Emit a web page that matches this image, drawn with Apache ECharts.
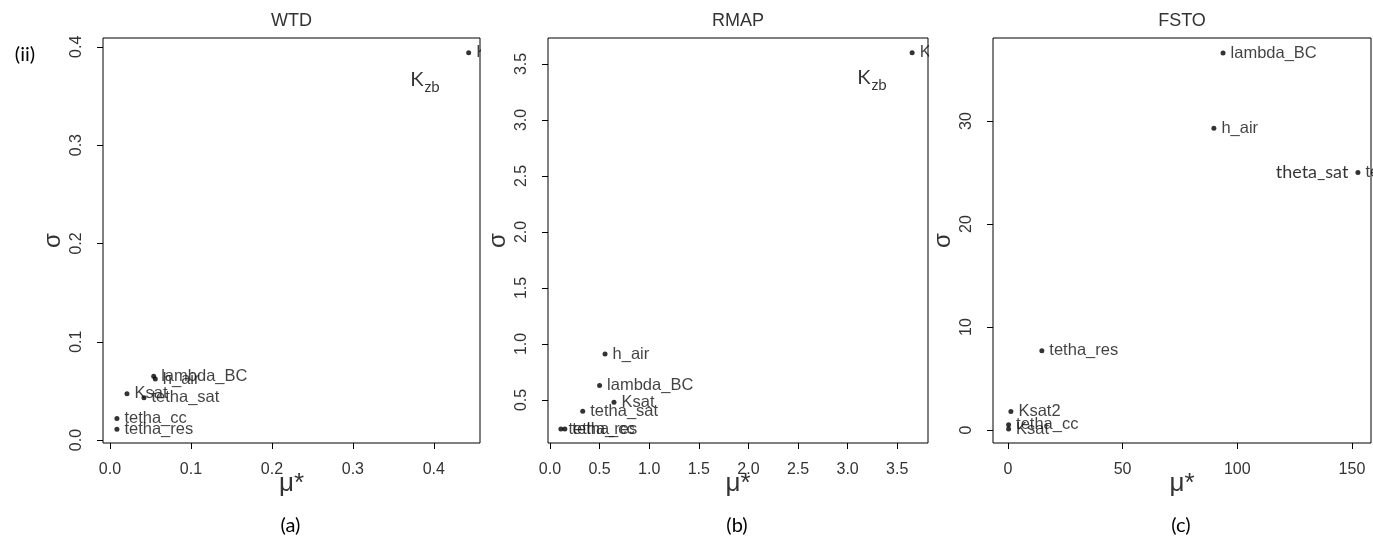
<!DOCTYPE html>
<html><head><meta charset="utf-8">
<script src="https://cdn.jsdelivr.net/npm/echarts@6/dist/echarts.min.js"></script>
<style>html,body{margin:0;padding:0;background:#fff}#c{width:1373px;height:549px}</style>
</head><body><div id="c"></div>
<script>
// ---- data ----
const titles = ['WTD', 'RMAP', 'FSTO'];
const panelTags = ['(a)', '(b)', '(c)'];

const wtdNames = ['Kzb', 'lambda_BC', 'h_air', 'Ksat', 'tetha_sat', 'tetha_cc', 'tetha_res'];
const wtdMu    = [0.443, 0.054, 0.056, 0.021, 0.042, 0.0086, 0.0086];
const wtdSigma = [0.394, 0.065, 0.062, 0.047, 0.043, 0.022, 0.011];

const rmapNames = ['Kzb', 'h_air', 'lambda_BC', 'Ksat', 'tetha_sat', 'tetha_cc', 'tetha_res'];
const rmapMu    = [3.65, 0.555, 0.50, 0.645, 0.33, 0.15, 0.11];
const rmapSigma = [3.60, 0.91, 0.63, 0.48, 0.40, 0.24, 0.24];

const fstoNames = ['lambda_BC', 'h_air', 'tetha_sat', 'tetha_res', 'Ksat2', 'tetha_cc', 'Ksat'];
const fstoMu    = [93.8, 89.8, 152.6, 14.8, 1.3, 0.3, 0.3];
const fstoSigma = [36.6, 29.3, 25.0, 7.7, 1.8, 0.5, 0.1];

const wtdXTicks  = [0, 0.1, 0.2, 0.3, 0.4];
const wtdYTicks  = [0, 0.1, 0.2, 0.3, 0.4];
const rmapXTicks = [0, 0.5, 1.0, 1.5, 2.0, 2.5, 3.0, 3.5];
const rmapYTicks = [0.5, 1.0, 1.5, 2.0, 2.5, 3.0, 3.5];
const fstoXTicks = [0, 50, 100, 150];
const fstoYTicks = [0, 10, 20, 30];

// annotations [mu, sigma]
const wtdKzbNote  = [0.389, 0.369];
const rmapKzbNote = [3.246, 3.40];
const fstoThetaNote = [132.6, 25.05];

// ---- layout ----
const grids = [
  {left: 103, top: 38, width: 377, height: 405},
  {left: 548, top: 38, width: 380, height: 405},
  {left: 993, top: 38, width: 378, height: 405}
];
const xRanges = [[-0.0086, 0.457], [-0.02, 3.81], [-6.5, 158.3]];
const yRanges = [[-0.003, 0.409], [0.116, 3.732], [-1.26, 38.06]];
const xTicks = [wtdXTicks, rmapXTicks, fstoXTicks];
const yTicks = [wtdYTicks, rmapYTicks, fstoYTicks];
const xFmt = [v => v.toFixed(1), v => v.toFixed(1), v => String(Math.round(v))];
const yFmt = [v => v.toFixed(1), v => v.toFixed(1), v => String(Math.round(v))];
const names = [wtdNames, rmapNames, fstoNames];
const mus = [wtdMu, rmapMu, fstoMu];
const sigmas = [wtdSigma, rmapSigma, fstoSigma];

const tickFont = "'Liberation Sans', Arial, sans-serif";
const noteFont = "Lato, 'Open Sans', sans-serif";

const option = {
  animation: false,
  backgroundColor: '#fff',
  grid: grids.map(g => Object.assign({show: true, borderColor: '#000', borderWidth: 1, backgroundColor: 'transparent'}, g)),
  xAxis: [], yAxis: [], series: [], graphic: []
};

for (let i = 0; i < 3; i++) {
  option.xAxis.push({
    type: 'value', gridIndex: i, min: xRanges[i][0], max: xRanges[i][1], position: 'bottom',
    axisLine: {show: false, onZero: false},
    axisTick: {show: true, inside: false, length: 6, customValues: xTicks[i], lineStyle: {color: '#000'}},
    axisLabel: {customValues: xTicks[i], formatter: xFmt[i], margin: 19, fontSize: 16, color: '#333', fontFamily: tickFont},
    splitLine: {show: false},
    name: 'μ*', nameLocation: 'middle', nameGap: 28, nameMoveOverlap: false,
    nameTextStyle: {fontSize: 26, color: '#333', fontFamily: tickFont}
  });
  option.yAxis.push({
    type: 'value', gridIndex: i, min: yRanges[i][0], max: yRanges[i][1], position: 'left',
    axisLine: {show: false, onZero: false},
    axisTick: {show: true, inside: false, length: 6, customValues: yTicks[i], lineStyle: {color: '#000'}},
    axisLabel: {customValues: yTicks[i], formatter: yFmt[i], rotate: 90, margin: 18, fontSize: 16, color: '#333', fontFamily: tickFont},
    splitLine: {show: false},
    name: 'σ', nameLocation: 'middle', nameGap: 38, nameRotate: 90, nameMoveOverlap: false,
    nameTextStyle: {fontSize: 24, color: '#333', fontFamily: tickFont}
  });
  option.series.push({
    type: 'scatter', xAxisIndex: i, yAxisIndex: i,
    symbol: 'circle', symbolSize: 5,
    itemStyle: {color: '#000'},
    data: mus[i].map((m, k) => ({value: [m, sigmas[i][k]], name: names[i][k]})),
    label: {show: true, position: 'right', distance: 5, formatter: '{b}', fontSize: 16.5, color: '#111', fontFamily: tickFont},
    z: 3
  });
  const g = grids[i];
  option.graphic.push({
    type: 'text', z: 100,
    x: g.left + g.width / 2, y: 21,
    style: {text: titles[i], font: '18px ' + tickFont, fill: '#333', textAlign: 'center', textVerticalAlign: 'middle'}
  });
  option.graphic.push({
    type: 'text', z: 100,
    x: g.left + g.width / 2 - 1, y: 526,
    style: {text: panelTags[i], font: '20px ' + noteFont, fill: '#000', textAlign: 'center', textVerticalAlign: 'middle'}
  });
  // clip labels that run past the plot box on the right
  option.graphic.push({
    type: 'rect', z: 100,
    shape: {x: g.left + g.width + 1, y: g.top + 2, width: i === 2 ? 4 : 26, height: 30},
    style: {fill: '#fff'}
  });
}

option.graphic.push({
  type: 'text', z: 100, x: 25, y: 55,
  style: {text: '(ii)', font: '20px ' + noteFont, fill: '#000', textAlign: 'center', textVerticalAlign: 'middle'}
});

// annotations as label-only series
const kzbRich = {
  k: {fontSize: 20, fontFamily: noteFont, color: '#000', lineHeight: 24, verticalAlign: 'bottom'},
  s: {fontSize: 15, fontFamily: noteFont, color: '#000', lineHeight: 24, verticalAlign: 'bottom', padding: [0, 0, -5, 1]}
};
[[0, wtdKzbNote], [1, rmapKzbNote]].forEach(([i, p]) => {
  option.series.push({
    type: 'scatter', xAxisIndex: i, yAxisIndex: i, symbolSize: 0, silent: true,
    data: [{value: p, name: 'Kzb'}],
    label: {show: true, position: 'inside', formatter: '{k|K}{s|zb}', rich: kzbRich},
    z: 4
  });
});
option.series.push({
  type: 'scatter', xAxisIndex: 2, yAxisIndex: 2, symbolSize: 0, silent: true,
  data: [{value: fstoThetaNote, name: 'theta_sat'}],
  label: {show: true, position: 'inside', formatter: '{b}', fontSize: 18, fontFamily: noteFont, color: '#000'},
  z: 4
});

const chart = echarts.init(document.getElementById('c'), null, {renderer: 'canvas'});
chart.setOption(option);
</script>
</body></html>
